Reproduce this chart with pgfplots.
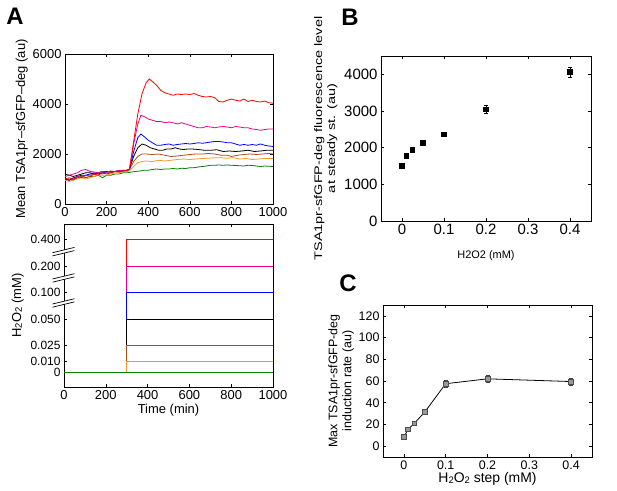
\documentclass[border=0pt]{standalone}
\usepackage{pgfplots}
\pgfplotsset{compat=1.18}
\usepackage{fontspec}
\setmainfont{Liberation Sans}
\definecolor{mbrown}{rgb}{0.65,0.3,0.12}
\definecolor{morange}{rgb}{0.96,0.6,0.15}
\definecolor{mgreen}{rgb}{0.0,0.5,0.0}
\newcommand{\sub}[1]{\raisebox{-0.8bp}{\fontsize{9.5}{10}\selectfont #1}}
\pgfplotsset{
  mstyle/.style={
    scale only axis, axis line style={line width=0.7pt}, tick style={line width=0.5pt, black},
    major tick length=3bp, tick align=inside,
    /pgf/number format/assume math mode=true,
    every axis plot/.append style={line width=0.8pt},
    clip=false,
  }
}
\begin{document}
\begin{tikzpicture}
\path[use as bounding box] (0,0) rectangle (617bp,491bp);
% Panel letters
\node[font=\fontsize{24}{26}\selectfont\bfseries] at (15bp,475bp) {A};
\node[font=\fontsize{24}{26}\selectfont\bfseries] at (350bp,474bp) {B};
\node[font=\fontsize{24}{26}\selectfont\bfseries] at (348bp,208bp) {C};

% A top
\begin{axis}[mstyle, at={(65bp,287bp)}, anchor=south west, width=208bp, height=150bp,
  xmin=0, xmax=1000, ymin=0, ymax=6000,
  xtick={0,200,400,600,800,1000}, ytick={0,2000,4000,6000},
  scaled y ticks=false,
  ticklabel style={font=\fontsize{13}{14}\selectfont},
  yticklabel style={/pgf/number format/.cd, set thousands separator={}, fixed},
  xticklabel style={/pgf/number format/.cd, set thousands separator={}},
  ylabel={Mean TSA1pr–sfGFP–deg (au)}, ylabel style={font=\fontsize{13}{14}\selectfont, yshift=-2bp},
  clip=true]
\addplot[mgreen] coordinates {(0,950)(20,1000)(40,950)(60,1050)(80,1100)(100,1050)(120,1100)(140,1100)(160,1150)(180,1050)(200,1150)(220,1150)(240,1200)(260,1200)(280,1250)(300,1250)(320,1280)(340,1300)(360,1320)(380,1350)(400,1350)(420,1380)(440,1400)(460,1380)(480,1400)(500,1400)(520,1420)(540,1400)(560,1430)(580,1420)(600,1450)(620,1450)(640,1480)(660,1500)(680,1520)(700,1550)(720,1550)(740,1560)(760,1550)(780,1560)(800,1550)(820,1540)(840,1530)(860,1520)(880,1550)(900,1540)(920,1520)(940,1500)(960,1520)(980,1510)(1000,1500)};
\addplot[morange] coordinates {(0,950)(20,900)(40,950)(60,1000)(80,1050)(100,1000)(120,1050)(140,1100)(160,1150)(180,1150)(200,1150)(220,1200)(240,1250)(260,1250)(280,1300)(300,1300)(310,1320)(330,1500)(350,1650)(370,1700)(390,1720)(420,1700)(450,1750)(480,1720)(510,1750)(540,1780)(570,1800)(600,1780)(630,1800)(660,1820)(690,1830)(720,1850)(750,1850)(780,1830)(810,1850)(840,1800)(870,1820)(900,1780)(930,1800)(960,1820)(1000,1820)};
\addplot[mbrown] coordinates {(0,1000)(20,950)(40,1000)(60,1050)(80,1100)(100,1150)(120,1150)(140,1200)(160,1250)(180,1200)(200,1250)(220,1250)(240,1300)(260,1300)(280,1330)(300,1350)(310,1380)(330,1700)(350,1900)(370,2000)(390,2000)(420,1980)(450,2000)(480,1950)(510,1900)(540,1920)(570,1950)(600,1980)(630,2000)(660,2000)(690,2020)(720,2000)(750,1950)(780,1950)(800,1900)(830,1950)(860,1980)(890,2000)(920,1980)(950,2000)(980,2020)(1000,2000)};
\addplot[black] coordinates {(0,1200)(20,1150)(40,1100)(60,1150)(80,1200)(100,1250)(120,1250)(140,1200)(160,1250)(180,1300)(200,1300)(220,1280)(240,1300)(260,1330)(280,1350)(300,1350)(310,1400)(330,1900)(350,2250)(370,2400)(390,2350)(410,2250)(430,2200)(450,2150)(470,2150)(490,2200)(510,2200)(530,2250)(550,2200)(570,2180)(590,2200)(610,2200)(640,2180)(670,2150)(700,2150)(730,2170)(760,2100)(790,2120)(820,2100)(850,2120)(880,2150)(910,2100)(940,2120)(970,2150)(1000,2150)};
\addplot[blue] coordinates {(0,1000)(20,950)(40,1050)(60,1100)(80,1150)(100,1150)(120,1200)(140,1250)(160,1200)(180,1250)(200,1280)(220,1300)(240,1300)(260,1320)(280,1330)(300,1350)(310,1380)(330,2100)(350,2650)(365,2800)(380,2700)(400,2550)(420,2450)(440,2350)(460,2350)(480,2380)(500,2400)(520,2350)(540,2380)(560,2400)(580,2420)(600,2400)(620,2420)(640,2450)(660,2430)(680,2450)(700,2480)(720,2500)(740,2500)(760,2480)(780,2450)(800,2450)(820,2400)(840,2350)(860,2380)(880,2350)(900,2380)(920,2350)(940,2400)(960,2350)(980,2320)(1000,2300)};
\addplot[magenta] coordinates {(0,1100)(20,1150)(40,1200)(60,1250)(80,1350)(100,1380)(120,1300)(140,1280)(160,1250)(180,1300)(200,1280)(220,1320)(240,1300)(260,1350)(280,1330)(300,1350)(310,1400)(330,2400)(350,3200)(365,3550)(380,3500)(400,3400)(420,3350)(440,3300)(460,3300)(480,3250)(500,3280)(520,3250)(540,3200)(560,3250)(580,3200)(600,3150)(620,3100)(640,3050)(660,3050)(680,3100)(700,3080)(720,3050)(740,3080)(760,3100)(780,3080)(800,3050)(820,3100)(840,3080)(860,3050)(880,3050)(900,3000)(920,2980)(940,2950)(960,2980)(980,3000)(1000,3000)};
\addplot[red] coordinates {(0,1000)(20,1050)(40,980)(60,1100)(80,1050)(100,1150)(120,1100)(140,1200)(160,1150)(180,1250)(200,1200)(220,1250)(240,1300)(260,1280)(280,1320)(300,1350)(310,1380)(330,2500)(350,3600)(370,4400)(390,4850)(405,5000)(420,4900)(440,4750)(460,4550)(480,4450)(500,4400)(520,4350)(540,4400)(560,4380)(580,4400)(600,4380)(620,4420)(640,4350)(660,4300)(680,4280)(700,4300)(720,4250)(740,4100)(760,4080)(780,4150)(800,4200)(820,4150)(840,4120)(860,4200)(880,4100)(900,4150)(920,4100)(940,4080)(960,4120)(980,4050)(1000,4030)};
\end{axis}

% A bottom
\begin{axis}[mstyle, at={(64bp,104bp)}, anchor=south west, width=209bp, height=163bp,
  xmin=0, xmax=1000, ymin=-0.0142, ymax=0.1396,
  xtick={0,200,400,600,800,1000},
  ytick={0,0.01,0.025,0.05,0.075,0.1,0.125},
  yticklabels={0,0.010,0.025,0.050,0.100,0.200,0.400},
  xticklabel style={font=\fontsize{13}{14}\selectfont, /pgf/number format/.cd, set thousands separator={}},
  yticklabel style={font=\fontsize{12}{12}\selectfont},
  xlabel={Time (min)}, xlabel style={font=\fontsize{13}{14}\selectfont, yshift=2bp},
  ylabel={H\sub{2}O\sub{2} (mM)}, ylabel style={font=\fontsize{13}{14}\selectfont, yshift=0bp},
  ]
\addplot[red] coordinates {(0,0)(300,0)(300,0.125)(1000,0.125)};
\addplot[magenta] coordinates {(0,0)(300,0)(300,0.1)(1000,0.1)};
\addplot[blue] coordinates {(0,0)(300,0)(300,0.075)(1000,0.075)};
\addplot[black] coordinates {(0,0)(300,0)(300,0.05)(1000,0.05)};
\addplot[mbrown] coordinates {(0,0)(300,0)(300,0.025)(1000,0.025)};
\addplot[morange] coordinates {(0,0)(300,0)(300,0.01)(1000,0.01)};
\addplot[mgreen] coordinates {(0,0)(1000,0)};
\fill[white] (axis cs:-55,0.1095) -- (axis cs:50,0.1145) -- (axis cs:50,0.1175) -- (axis cs:-55,0.1125) -- cycle;
\draw[line width=0.7pt] (axis cs:-55,0.1095) -- (axis cs:50,0.1145) (axis cs:-55,0.1125) -- (axis cs:50,0.1175);
\fill[white] (axis cs:-55,0.0847) -- (axis cs:50,0.0897) -- (axis cs:50,0.0927) -- (axis cs:-55,0.0877) -- cycle;
\draw[line width=0.7pt] (axis cs:-55,0.0847) -- (axis cs:50,0.0897) (axis cs:-55,0.0877) -- (axis cs:50,0.0927);
\fill[white] (axis cs:-55,0.0611) -- (axis cs:50,0.0661) -- (axis cs:50,0.0691) -- (axis cs:-55,0.0641) -- cycle;
\draw[line width=0.7pt] (axis cs:-55,0.0611) -- (axis cs:50,0.0661) (axis cs:-55,0.0641) -- (axis cs:50,0.0691);
\end{axis}

% B
\begin{axis}[mstyle, at={(381bp,270bp)}, anchor=south west, width=210bp, height=165bp,
  xmin=-0.05, xmax=0.45, ymin=0, ymax=4500,
  xtick={0,0.1,0.2,0.3,0.4}, ytick={0,1000,2000,3000,4000},
  scaled y ticks=false,
  xticklabel style={/pgf/number format/.cd, fixed},
  yticklabel style={/pgf/number format/.cd, set thousands separator={}, fixed},
  ticklabel style={font=\fontsize{15}{16}\selectfont},
  xlabel={H2O2 (mM)}, xlabel style={font=\fontsize{11}{12}\selectfont, yshift=-9bp},
  ylabel={\scalebox{1.32}[1]{TSA1pr-sfGFP-deg fluorescence level}\\\scalebox{1.32}[1]{at steady st. (au)}},
  ylabel style={font=\fontsize{11}{13}\selectfont, align=center, yshift=0bp},
  ]
\addplot[only marks, mark=square*, mark size=2.2bp, black,
  error bars/.cd, y dir=both, y explicit, error mark options={rotate=90, mark size=2bp, line width=0.5pt}, error bar style={line width=0.5pt}]
  coordinates {(0,1500)+-(0,40)(0.01,1780)+-(0,40)(0.025,1940)+-(0,40)(0.05,2130)+-(0,40)(0.1,2370)+-(0,50)(0.2,3047)+-(0,100)(0.4,4063)+-(0,130)};
\end{axis}

% C
\begin{axis}[mstyle, at={(383bp,34bp)}, anchor=south west, width=209bp, height=152bp,
  xmin=-0.05, xmax=0.45, ymin=-10, ymax=130,
  xtick={0,0.1,0.2,0.3,0.4}, ytick={0,20,40,60,80,100,120},
  xticklabel style={/pgf/number format/.cd, fixed},
  ticklabel style={font=\fontsize{12.5}{13}\selectfont},
  xlabel={H\sub{2}O\sub{2} step (mM)}, xlabel style={font=\fontsize{14}{15}\selectfont, yshift=4bp},
  ylabel={Max TSA1pr-sfGFP-deg\\induction rate (au)},
  ylabel style={font=\fontsize{12.5}{14}\selectfont, align=center, yshift=-2bp},
  ]
\addplot[black, line width=0.8pt, mark=square*, mark size=2.4bp, mark options={fill=gray!80, draw=gray!60!black},
  error bars/.cd, y dir=both, y explicit, error mark options={rotate=90, mark size=2bp, draw=gray!50!black}, error bar style={draw=gray!50!black}]
  coordinates {(0,8.5)+-(0,1)(0.01,15.5)+-(0,1.5)(0.025,21)+-(0,1)(0.05,31.5)+-(0,1)(0.1,57.5)+-(0,3)(0.2,62)+-(0,3)(0.4,59.5)+-(0,3)};
\end{axis}
\end{tikzpicture}
\end{document}
